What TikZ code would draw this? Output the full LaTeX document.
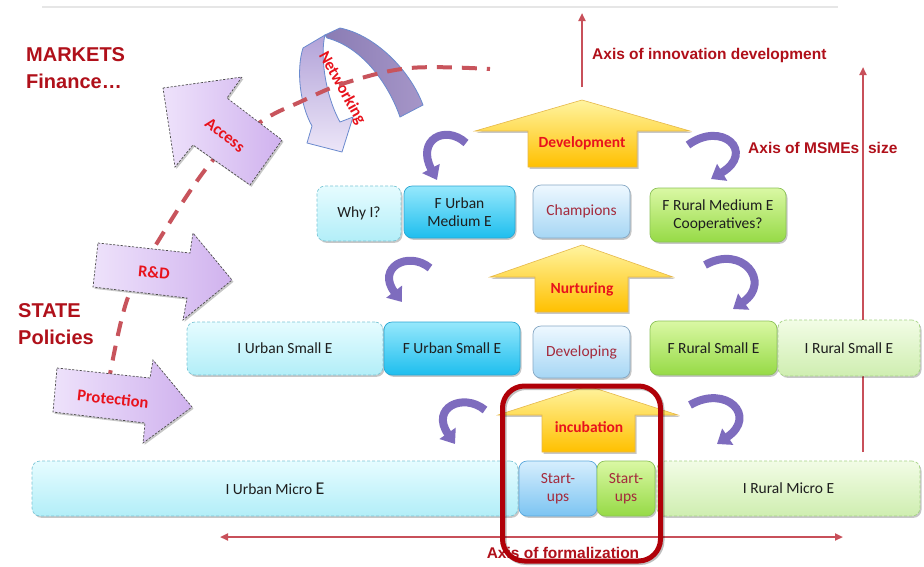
\documentclass[tikz,border=0pt]{standalone}
\usepackage{fontspec}
\setmainfont{Carlito}
\newfontfamily\headfont{Liberation Sans}
\usetikzlibrary{arrows.meta,shadows}

% palette
\definecolor{axisred}{HTML}{C8505A}
\definecolor{headred}{HTML}{B0101A}
\definecolor{labelred}{HTML}{E8121C}
\definecolor{boxink}{HTML}{1E1E1E}
\definecolor{wine}{HTML}{A42A3C}
\definecolor{iuTop}{HTML}{E6FCFF}
\definecolor{iuBot}{HTML}{B2EEF8}
\definecolor{iuLine}{HTML}{7CC6D6}
\definecolor{fuTop}{HTML}{96E8FC}
\definecolor{fuBot}{HTML}{1EBEEE}
\definecolor{fuLine}{HTML}{2CA6D2}
\definecolor{chTop}{HTML}{EEF8FF}
\definecolor{chBot}{HTML}{A6D6F4}
\definecolor{chLine}{HTML}{86A8C4}
\definecolor{suTop}{HTML}{D6EEFD}
\definecolor{suBot}{HTML}{7CC4F2}
\definecolor{suLine}{HTML}{5AA8DC}
\definecolor{frTop}{HTML}{DAF8A4}
\definecolor{frBot}{HTML}{96DA46}
\definecolor{frLine}{HTML}{8CC258}
\definecolor{irTop}{HTML}{F2FCE6}
\definecolor{irBot}{HTML}{CFEEB0}
\definecolor{irLine}{HTML}{A6D486}
\definecolor{yTop}{HTML}{FFF4A0}
\definecolor{yBot}{HTML}{FFC000}
\definecolor{yLine}{HTML}{E6B84A}
\definecolor{pLeft}{HTML}{EEE2FB}
\definecolor{pRight}{HTML}{D0B2EE}
\definecolor{netDarkL}{HTML}{8A7CB4}
\definecolor{netDarkR}{HTML}{A696C8}
\definecolor{netLightA}{HTML}{B2A2D8}
\definecolor{netLightB}{HTML}{ECE6F8}
\definecolor{netLine}{HTML}{6A8ACE}
\definecolor{curl}{HTML}{7E6CBE}
\definecolor{trail}{HTML}{C8545C}
\definecolor{focusred}{HTML}{B00008}
\definecolor{rule}{HTML}{E6E6E6}

\tikzset{
  axistip/.tip={Triangle[width=7pt,length=8pt]},
  curltip/.tip={Triangle[width=19pt,length=13pt]},
  softshadow/.style={drop shadow={shadow xshift=1.5pt,shadow yshift=-1.8pt,opacity=0.22,fill=black}},
  box/.style={rounded corners=8pt, inner sep=0pt, align=center, text=boxink,
    font=\fontsize{15.5}{18}\selectfont, softshadow, line width=0.7pt},
  iurban/.style={box, draw=iuLine, dash pattern=on 3pt off 2pt, top color=iuTop, bottom color=iuBot},
  furban/.style={box, draw=fuLine, top color=fuTop, bottom color=fuBot},
  stage/.style={box, draw=chLine, top color=chTop, bottom color=chBot, text=wine},
  startblue/.style={box, draw=suLine, top color=suTop, bottom color=suBot, text=wine},
  startgreen/.style={box, draw=frLine, top color=frTop, bottom color=frBot, text=wine},
  frural/.style={box, draw=frLine, top color=frTop, bottom color=frBot},
  irural/.style={box, draw=irLine, dash pattern=on 3pt off 2pt, top color=irTop, bottom color=irBot},
  yarrow/.style={draw=yLine, line width=0.6pt, top color=yTop, bottom color=yBot, softshadow},
  ylabel/.style={text=labelred, font=\bfseries\fontsize{15.5}{17}\selectfont, inner sep=0pt},
  parrow/.style={draw=black!70, line width=0.7pt, dash pattern=on 2.2pt off 1.6pt,
    left color=pLeft, right color=pRight, softshadow},
  plabel/.style={text=labelred, font=\bfseries\fontsize{16.5}{18}\selectfont, inner sep=0pt},
  headline/.style={text=headred, font=\headfont\bfseries\fontsize{20}{27}\selectfont,
    align=left, inner sep=0pt, anchor=west},
  axislabel/.style={text=headred, font=\headfont\bfseries\fontsize{15.5}{17}\selectfont, inner sep=0pt},
  axisline/.style={draw=axisred, line width=2pt},
  curly/.style={draw=curl, line width=8pt, -curltip},
}

\begin{document}
\begin{tikzpicture}[x=1pt,y=-1pt]
\useasboundingbox (0,0) rectangle (924,566);
\fill[white] (0,0) rectangle (924,566);

% thin rule along the top
\coordinate (ruleL) at (42,7);
\coordinate (ruleR) at (838,7);
\draw[rule, line width=1.5pt] (ruleL) -- (ruleR);

% curved networking arrow: dark back band, light front band with head
\path[draw=netLine, line width=0.8pt, left color=netDarkL, right color=netDarkR]
  (325,35) -- (340,28) .. controls (375,35) and (410,70) .. (423,105) -- (400,117)
  .. controls (390,88) and (365,48) .. (327,38) -- cycle;
\path[draw=netLine, line width=0.8pt, top color=netLightA, bottom color=netLightB]
  (303,48) -- (325,35) .. controls (320,55) and (325,95) .. (340,122) -- (353,117)
  -- (342,152) -- (307,143) -- (312,126) .. controls (300,105) and (296,70) .. (303,48) -- cycle;
\node[plabel, rotate=-61] (networking) at (342,88) {Networking};

% dashed trail from policies towards markets
\draw[trail, line width=4pt, dash pattern=on 15pt off 10pt]
  plot[smooth, tension=0.6] coordinates
  {(108,385) (127,300) (157,243) (213,160) (262,121) (300,102) (345,83) (410,68) (490,69)};

% block arrows of the state / market side
\path[parrow] (163,88) -- (242,77) -- (227,98) -- (282,140) -- (250,185)
  -- (193,145) -- (175,167) -- cycle;
\node[plabel, rotate=-38] (access) at (225,135) {Access};

\path[parrow] (98,243) -- (190,253) -- (193,233) -- (232,280) -- (183,320)
  -- (187,298) -- (93,287) -- cycle;
\node[plabel, rotate=-5] (rnd) at (154,272) {R\&D};

\path[parrow] (57,368) -- (150,378) -- (153,360) -- (192,407) -- (143,443)
  -- (145,423) -- (53,412) -- cycle;
\node[plabel, rotate=-6] (protection) at (113,399) {Protection};

% side headings
\node[headline] (markets) at (26,68) {MARKETS\\Finance…};
\node[headline] (state) at (18,324) {STATE\\Policies};

% axis of innovation development
\coordinate (innovBase) at (582,87);
\coordinate (innovTip) at (582,13);
\draw[axisline, -axistip] (innovBase) -- (innovTip);
\node[axislabel, anchor=west] (innovLabel) at (592,55) {Axis of innovation development};

% axis of MSMEs size
\coordinate (sizeBase) at (863,452);
\coordinate (sizeTip) at (863,67);
\draw[axisline, -axistip] (sizeBase) -- (sizeTip);
\node[axislabel, anchor=west] (sizeLabel) at (748,148) {Axis of MSMEs\hspace{4.5pt} size};

% support stages
\path[yarrow] (475,131) -- (582,100) -- (690,131) -- (637,131) -- (637,167)
  -- (528,167) -- (528,131) -- cycle;
\node[ylabel] (development) at (582,143) {Development};

\path[yarrow] (490,277) -- (582,245) -- (673,277) -- (628,277) -- (628,312)
  -- (535,312) -- (535,277) -- cycle;
\node[ylabel] (nurturing) at (582,289) {Nurturing};

\path[yarrow] (498,415) -- (588,386) -- (678,415) -- (635,415) -- (635,452)
  -- (542,452) -- (542,415) -- cycle;
\node[ylabel] (incubation) at (589,427) {incubation};

% medium enterprises
\node[iurban, minimum width=84pt, minimum height=55pt] (whyI) at (359,213.5) {Why I?};
\node[furban, minimum width=111pt, minimum height=52pt] (fUrbanMed) at (459.5,212) {F Urban\\Medium E};
\node[stage, minimum width=97pt, minimum height=53pt] (champions) at (581.5,211.5) {Champions};
\node[frural, minimum width=136pt, minimum height=54pt] (fRuralMed) at (718,215) {F Rural Medium E\\Cooperatives?};

% small enterprises
\node[iurban, minimum width=196pt, minimum height=53pt] (iUrbanSmall) at (285,348.5) {I Urban Small E};
\node[furban, minimum width=136pt, minimum height=53pt] (fUrbanSmall) at (452,348.5) {F Urban Small E};
\node[stage, minimum width=97pt, minimum height=52pt] (developing) at (581.5,352) {Developing};
\node[frural, minimum width=127pt, minimum height=54pt] (fRuralSmall) at (713.5,348) {F Rural Small E};
\node[irural, minimum width=142pt, minimum height=56pt] (iRuralSmall) at (849,348) {I Rural Small E};

% micro enterprises
\node[iurban, minimum width=486pt, minimum height=55pt] (iUrbanMicro) at (275,488.5)
  {I Urban Micro {\fontsize{18}{18}\selectfont E}};
\node[startblue, minimum width=78pt, minimum height=55pt] (startUrban) at (558,488.5) {Start-\\ups};
\node[startgreen, minimum width=58pt, minimum height=55pt] (startRural) at (626,488.5) {Start-\\ups};
\node[irural, minimum width=263pt, minimum height=55pt] (iRuralMicro) at (788.5,488.5) {I Rural Micro E};

% growth turns between the levels
\draw[curly] (466,143) .. controls (445,124) and (416,140) .. (437,180);
\draw[curly] (688,145) .. controls (722,120) and (756,152) .. (711,179);
\draw[curly] (430,268) .. controls (408,250) and (376,268) .. (402,302);
\draw[curly] (705,265) .. controls (742,244) and (772,282) .. (733,309);
\draw[curly] (485,410) .. controls (463,392) and (430,408) .. (455,444);
\draw[curly] (690,405) .. controls (726,384) and (758,416) .. (717,444);

% axis of formalization
\coordinate (formL) at (220,537);
\coordinate (formR) at (843,537);
\draw[axisline, axistip-axistip] (formL) -- (formR);
\node[axislabel] (formLabel) at (563,553) {Axis of formalization};

% highlight frame around the start-ups
\node[draw=black, opacity=0.25, line width=5pt, rounded corners=22pt, inner sep=0pt,
  minimum width=158pt, minimum height=175pt] (focusShade) at (583,475) {};
\node[draw=focusred, line width=5pt, rounded corners=22pt, inner sep=0pt,
  minimum width=158pt, minimum height=175pt] (focus) at (581.5,473.5) {};
\end{tikzpicture}
\end{document}
